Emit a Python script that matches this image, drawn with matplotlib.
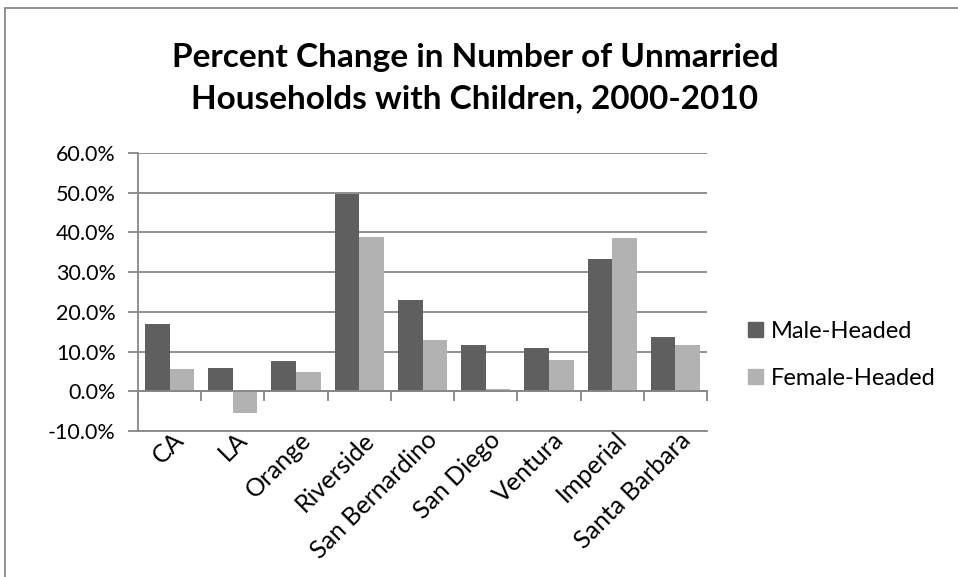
import numpy as np
import matplotlib
matplotlib.use("Agg")
import matplotlib.pyplot as plt
from matplotlib.patches import Patch, Rectangle
from matplotlib.ticker import PercentFormatter
from matplotlib.transforms import ScaledTranslation

# Percent change in unmarried households with children, 2000-2010
counties = ["CA", "LA", "Orange", "Riverside", "San Bernardino",
            "San Diego", "Ventura", "Imperial", "Santa Barbara"]
male_headed = [17.0, 5.9, 7.6, 49.8, 23.0, 11.6, 10.8, 33.2, 13.7]
female_headed = [5.6, -5.4, 4.8, 38.9, 13.0, 0.5, 7.9, 38.7, 11.7]
y_ticks = [-10, 0, 10, 20, 30, 40, 50, 60]

dark = "#5f5f5f"
light = "#b2b2b2"
grid_col = "#878787"

plt.rcParams["font.family"] = ["Lato", "DejaVu Sans"]
plt.rcParams["axes.unicode_minus"] = False

fig = plt.figure(figsize=(9.58, 5.77), dpi=100)
ax = fig.add_axes([138 / 958, 1 - 431 / 577, (707 - 138) / 958, (431 - 153) / 577])

x = np.arange(len(counties))
w = 0.39
ax.bar(x - w / 2, male_headed, w, color=dark, label="Male-Headed", zorder=3)
ax.bar(x + w / 2, female_headed, w, color=light, label="Female-Headed", zorder=3)

ax.set_xlim(-0.5, len(counties) - 0.5)
ax.set_ylim(y_ticks[0], y_ticks[-1])
ax.set_yticks(y_ticks)
ax.yaxis.set_major_formatter(PercentFormatter(decimals=1))
ax.yaxis.grid(True, color=grid_col, linewidth=1.3, zorder=0)
ax.tick_params(axis="y", labelsize=15.5, length=7, width=1.3, color=grid_col, pad=9)

# category axis sits on the zero line, with boundary ticks
for side in ["top", "right"]:
    ax.spines[side].set_visible(False)
ax.spines["left"].set_color(grid_col)
ax.spines["left"].set_linewidth(1.3)
ax.spines["bottom"].set_position(("data", 0))
ax.spines["bottom"].set_color(grid_col)
ax.spines["bottom"].set_linewidth(1.3)
ax.spines["bottom"].set_zorder(4)
ax.set_xticks(x)
ax.set_xticklabels([])
ax.tick_params(axis="x", which="major", length=0)
ax.set_xticks(np.arange(len(counties) + 1) - 0.5, minor=True)
ax.tick_params(axis="x", which="minor", length=7, width=1.3, color=grid_col)

# county names hang below the bottom of the plot
sec = ax.secondary_xaxis("bottom")
sec.set_xticks(x)
sec.set_xticklabels(counties, rotation=45, ha="right", va="top",
                    rotation_mode="anchor", fontsize=18)
sec.tick_params(length=0, pad=0)
sec.spines["bottom"].set_color(grid_col)
sec.spines["bottom"].set_linewidth(1.3)
shift = ScaledTranslation(3 / 100, 3 / 100, fig.dpi_scale_trans)
for lab in sec.get_xticklabels():
    lab.set_transform(lab.get_transform() + shift)

fig.text(475 / 958, 1 - 67 / 577, "Percent Change in Number of Unmarried",
         ha="center", va="baseline", fontsize=24, fontweight="bold")
fig.text(475 / 958, 1 - 108 / 577, "Households with Children, 2000-2010",
         ha="center", va="baseline", fontsize=24, fontweight="bold")

handles = [Patch(color=dark, label="Male-Headed"),
           Patch(color=light, label="Female-Headed")]
fig.legend(handles=handles, loc="center left", bbox_to_anchor=(748 / 958, 1 - 355 / 577),
           frameon=False, fontsize=17, handlelength=0.62, handleheight=0.62,
           handletextpad=0.35, labelspacing=1.1, borderaxespad=0, borderpad=0)

# outer chart frame, clipped by the image edge
fig.add_artist(Rectangle((5 / 958, -0.5), 2, 1.5 - 8 / 577, transform=fig.transFigure,
                         fill=False, edgecolor="#888888", linewidth=1.3))

fig.savefig("out.png", dpi=100)
